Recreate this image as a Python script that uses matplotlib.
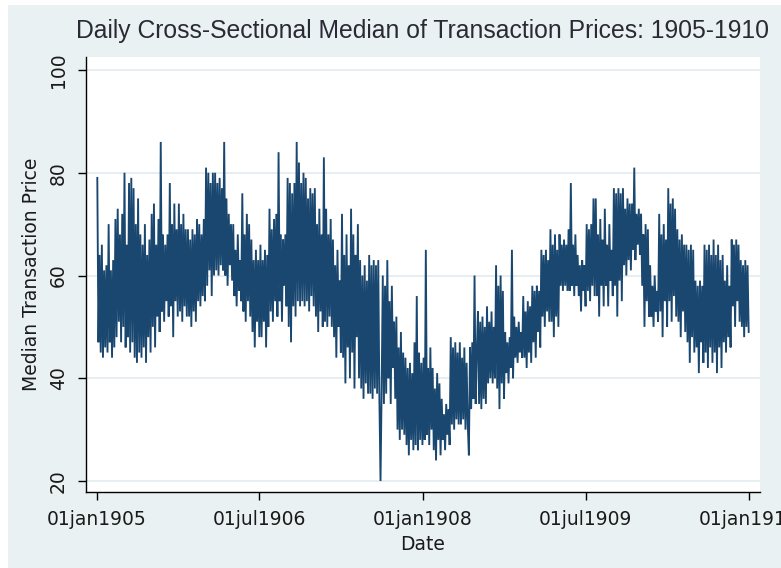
'''
daily cross-sectional median of transaction prices, 1905-1910 (stata s2color look)
'''

import numpy as np
import pandas as pd
import matplotlib
matplotlib.use("Agg")
import matplotlib.pyplot as plt
from matplotlib.patches import Rectangle


# DATA, 8 readings per month
PRICES_1905 = [
    79, 47, 64, 45, 66, 44, 61, 46,
    62, 45, 70, 47, 61, 44, 63, 46,
    71, 48, 73, 51, 68, 47, 72, 50,
    80, 46, 66, 48, 78, 45, 79, 47,
    77, 44, 70, 43, 75, 45, 68, 44,
    66, 46, 70, 43, 64, 48, 67, 45,
    72, 50, 74, 46, 66, 52, 71, 49,
    86, 53, 68, 51, 66, 55, 68, 52,
    78, 54, 70, 48, 74, 55, 69, 52,
    74, 53, 70, 51, 72, 54, 69, 52,
    69, 52, 67, 50, 69, 53, 68, 51,
    71, 55, 70, 54, 68, 56, 71, 55,
]
PRICES_1906 = [
    81, 58, 80, 61, 78, 56, 80, 60,
    80, 61, 78, 60, 79, 62, 77, 61,
    86, 60, 75, 58, 72, 62, 70, 59,
    70, 56, 65, 54, 68, 57, 63, 55,
    76, 53, 68, 51, 72, 55, 70, 52,
    67, 49, 63, 46, 65, 51, 63, 48,
    66, 48, 63, 51, 65, 46, 64, 50,
    73, 53, 69, 51, 71, 55, 72, 52,
    84, 55, 68, 51, 67, 58, 68, 54,
    79, 50, 78, 47, 76, 54, 78, 52,
    86, 55, 82, 54, 78, 55, 80, 54,
    79, 55, 75, 53, 77, 56, 76, 54,
]
PRICES_1907 = [
    77, 52, 70, 49, 73, 53, 68, 50,
    83, 51, 73, 50, 68, 52, 71, 50,
    67, 48, 62, 44, 65, 50, 59, 45,
    72, 44, 64, 39, 68, 46, 62, 40,
    73, 45, 68, 38, 64, 48, 70, 40,
    63, 38, 60, 36, 62, 39, 59, 37,
    64, 37, 62, 36, 63, 38, 62, 37,
    63, 36, 20, 38, 60, 35, 58, 37,
    63, 40, 55, 35, 58, 42, 51, 36,
    52, 30, 46, 28, 49, 30, 45, 29,
    44, 27, 42, 25, 43, 28, 41, 26,
    47, 27, 56, 26, 45, 28, 43, 27,
]
PRICES_1908 = [
    44, 28, 65, 29, 42, 27, 46, 30,
    42, 26, 38, 24, 41, 28, 39, 25,
    36, 28, 33, 26, 35, 29, 34, 27,
    48, 31, 46, 30, 47, 32, 45, 31,
    47, 31, 44, 32, 46, 30, 43, 31,
    25, 46, 34, 47, 36, 60, 35, 45,
    53, 35, 51, 34, 52, 36, 50, 35,
    54, 39, 51, 40, 53, 39, 50, 40,
    62, 38, 58, 34, 60, 39, 57, 36,
    49, 41, 47, 39, 48, 42, 65, 40,
    52, 44, 50, 43, 51, 45, 49, 44,
    56, 44, 53, 42, 55, 45, 54, 43,
]
PRICES_1909 = [
    58, 47, 57, 44, 58, 49, 57, 46,
    65, 52, 64, 50, 65, 53, 63, 51,
    69, 51, 66, 48, 68, 52, 65, 50,
    68, 58, 66, 57, 67, 58, 66, 57,
    69, 57, 78, 58, 66, 56, 68, 58,
    64, 56, 62, 53, 63, 57, 62, 54,
    70, 57, 69, 55, 70, 58, 75, 56,
    75, 56, 68, 52, 71, 58, 67, 54,
    73, 58, 66, 54, 70, 59, 65, 56,
    77, 58, 76, 52, 77, 59, 76, 55,
    77, 62, 73, 60, 75, 63, 74, 61,
    74, 65, 81, 63, 72, 66, 73, 64,
]
PRICES_1910 = [
    72, 58, 68, 50, 70, 55, 69, 52,
    62, 52, 58, 50, 60, 53, 57, 51,
    72, 53, 68, 48, 70, 55, 67, 50,
    77, 55, 74, 51, 75, 56, 73, 52,
    69, 51, 67, 48, 68, 53, 66, 49,
    66, 47, 65, 43, 66, 48, 65, 45,
    59, 46, 58, 41, 59, 47, 58, 43,
    66, 45, 65, 42, 66, 46, 64, 43,
    67, 45, 64, 41, 66, 46, 63, 42,
    64, 47, 59, 45, 62, 48, 58, 46,
    67, 54, 66, 50, 67, 55, 66, 51,
    63, 50, 62, 48, 63, 50, 62, 49,
]
FIRST_DAY = "1905-01-02"
LAST_DAY = "1910-12-31"
X_TICK_DATES = ["1905-01-01", "1906-07-01", "1908-01-01", "1909-07-01", "1911-01-01"]
X_TICK_LABELS = ["01jan1905", "01jul1906", "01jan1908", "01jul1909", "01jan1911"]
Y_TICKS = [20, 40, 60, 80, 100]

TITLE = "Daily Cross-Sectional Median of Transaction Prices: 1905-1910"
XLABEL = "Date"
YLABEL = "Median Transaction Price"

# stata s2color colours
LINE_COLOR = "#1A476F"
REGION_COLOR = "#EAF1F3"
GRID_COLOR = "#E4EDF0"
TEXT_COLOR = "#1a1a1a"


def main():
    prices = np.array(PRICES_1905 + PRICES_1906 + PRICES_1907 +
                      PRICES_1908 + PRICES_1909 + PRICES_1910, dtype=float)
    dates = pd.date_range(FIRST_DAY, LAST_DAY, periods=len(prices))

    plt.rcParams["font.family"] = ["DejaVu Sans"]
    fig = plt.figure(figsize=(7.81, 5.68), dpi=100, facecolor="white")
    # outer graph region (white strip left and top as in the screenshot)
    fig.patches.append(Rectangle((8 / 781, 0), 1, 1 - 5 / 568, transform=fig.transFigure,
                                 facecolor=REGION_COLOR, edgecolor="none", zorder=-10))

    ax = fig.add_axes([86 / 781, 76 / 568, 674 / 781, 435 / 568])
    ax.set_facecolor("white")
    ax.plot(dates, prices, color=LINE_COLOR, linewidth=1.35, solid_joinstyle="miter")

    ax.set_xlim(pd.Timestamp("1904-11-25"), pd.Timestamp("1911-02-07"))
    ax.set_ylim(17.86, 102.53)

    ax.set_xticks([pd.Timestamp(d) for d in X_TICK_DATES])
    ax.set_xticklabels(X_TICK_LABELS)
    ax.set_yticks(Y_TICKS)
    ax.set_yticklabels([str(v) for v in Y_TICKS], rotation=90, va="center")

    ax.tick_params(axis="both", direction="out", length=6, width=1.0, color="black",
                   labelsize=13.5, labelcolor=TEXT_COLOR, pad=7)
    ax.grid(axis="y", color=GRID_COLOR, linewidth=1.3)
    ax.set_axisbelow(True)

    for side in ["top", "right"]:
        ax.spines[side].set_visible(False)
    for side in ["left", "bottom"]:
        ax.spines[side].set_linewidth(1.0)
        ax.spines[side].set_color("black")

    ax.set_xlabel(XLABEL, fontsize=13.5, color=TEXT_COLOR, labelpad=4)
    ax.set_ylabel(YLABEL, fontsize=13.5, color=TEXT_COLOR, labelpad=6)

    fig.text(423 / 781, 1 - 31 / 568, TITLE, ha="center", va="center",
             fontsize=17.8, color="#2a2a35", family="Liberation Sans")

    fig.savefig("out.png", dpi=100, facecolor=fig.get_facecolor())


if __name__ == "__main__":
    main()
